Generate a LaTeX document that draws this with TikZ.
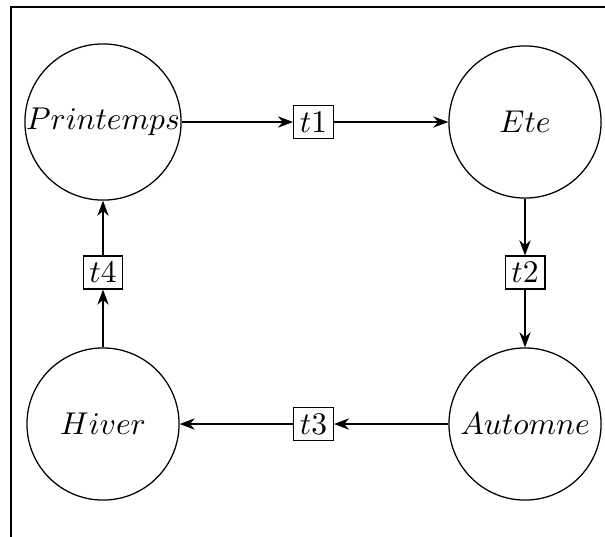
\documentclass[tikz,border=0pt]{standalone}
\usetikzlibrary{arrows.meta}
\begin{document}
\begin{tikzpicture}[x=0.3175pt,y=-0.3175pt,
  every path/.style={line width=0.4pt},
  place/.style={draw,circle,inner sep=0pt,minimum size=48.3pt},
  trans/.style={draw,rectangle,inner sep=2pt},
  flow/.style={-{Stealth}}]
\useasboundingbox (0,0) rectangle (605,536);
\coordinate (fbl) at (11,540);
\coordinate (ftl) at (11,7);
\coordinate (ftr) at (610,7);
\draw (fbl) -- (ftl) -- (ftr);
\node[place] (P) at (103,122) {$Printemps$};
\node[place] (E) at (525,122) {$Ete$};
\node[place] (A) at (525,424) {$Automne$};
\node[place] (H) at (103,424) {$Hiver$};
\node[trans] (t1) at (313.5,122) {$t1$};
\node[trans] (t2) at (525,272.5) {$t2$};
\node[trans] (t3) at (313.5,424) {$t3$};
\node[trans] (t4) at (103,272.5) {$t4$};
\draw[flow] (P) -- (t1);
\draw[flow] (t1) -- (E);
\draw[flow] (E) -- (t2);
\draw[flow] (t2) -- (A);
\draw[flow] (A) -- (t3);
\draw[flow] (t3) -- (H);
\draw[flow] (H) -- (t4);
\draw[flow] (t4) -- (P);
\end{tikzpicture}
\end{document}
